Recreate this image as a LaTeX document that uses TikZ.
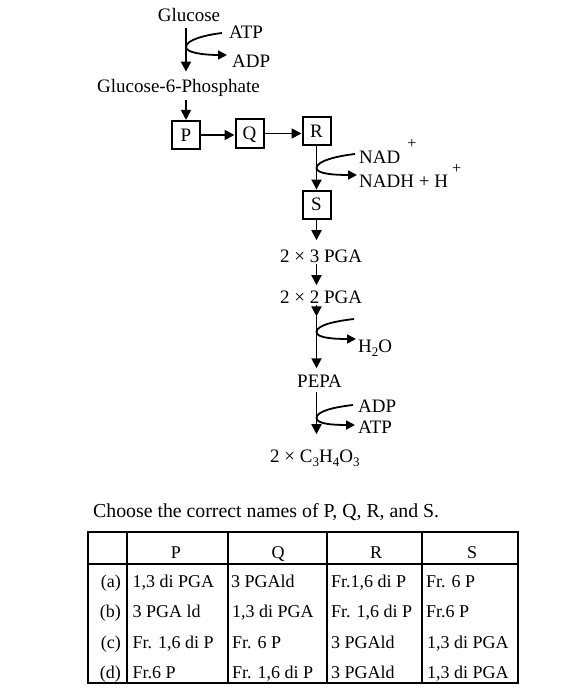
\documentclass[tikz,border=0pt]{standalone}
\usepackage{fontspec}
\setmainfont{Liberation Serif}
\usetikzlibrary{arrows.meta,decorations.markings,calc}
\newcommand{\sbs}[1]{\raisebox{-4pt}{\fontsize{13}{13}\selectfont #1}}
\newcommand{\spp}[2]{\hspace{#1}\raisebox{#2}{\fontsize{16}{16}\selectfont +}}
\begin{document}
\begin{tikzpicture}[x=1pt,y=-1pt,
  lbl/.style={inner sep=0pt, anchor=base west, font=\fontsize{19}{22}\selectfont},
  lblc/.style={inner sep=0pt, anchor=base, font=\fontsize{19}{22}\selectfont},
  box/.style={draw, line width=2pt, minimum width=28pt, minimum height=28pt,
    inner sep=0pt, text height=12.5pt, text depth=0pt, font=\fontsize{19}{22}\selectfont},
  arr/.style={line width=1.8pt, -{Triangle[length=10pt,width=10pt]}},
  sarr/.style={line width=1.8pt, -{Triangle[length=9pt,width=9pt]}},
  midtip/.style={postaction={decorate}, decoration={markings,
    mark=at position 11pt with {\arrow{Triangle[length=10pt,width=10pt]}}}},
  tline/.style={line width=2.8pt},
  cell/.style={inner sep=0pt, anchor=base west, font=\fontsize{18}{21}\selectfont},
  rlab/.style={inner sep=0pt, anchor=base east, font=\fontsize{18}{21}\selectfont},
  head/.style={inner sep=0pt, anchor=base, font=\fontsize{18}{21}\selectfont}
]
\useasboundingbox (0,0) rectangle (568,698);

% ---------- pathway nodes ----------
\node[lblc] (glu) at (189,22) {Glucose};
\node[lbl] (atp1) at (229,39) {ATP};
\node[lbl] (adp1) at (232,68) {ADP};
\node[lbl] (g6p) at (97,93) {Glucose-6-Phosphate};
\node[box] (P) at (186,135) {P};
\node[box] (Q) at (249.5,133.5) {Q};
\node[box] (R) at (316.5,131) {R};
\node[box] (S) at (316.5,204.6) {S};
\node[lbl] (nad) at (359,163) {NAD\spp{7pt}{15pt}};
\node[lbl] (nadh) at (359,187) {NADH + H\spp{4pt}{14pt}};
\node[lbl] (pga3) at (280,262) {2 × 3 PGA};
\node[lbl] (pga2) at (280,303) {2 × 2 PGA};
\node[lbl] (h2o) at (358,352) {H\sbs{2}O};
\node[lbl] (pepa) at (297,387) {PEPA};
\node[lbl] (adp2) at (358,412) {ADP};
\node[lbl] (atp2) at (358,433) {ATP};
\node[lbl] (pyr) at (270,462) {2 × C\sbs{3}H\sbs{4}O\sbs{3}};

% junction points on the main line
\coordinate (j1) at (186,47);
\coordinate (j2) at (316.5,168);
\coordinate (j3) at (316.5,332);
\coordinate (j4) at (316.5,418);
\coordinate (h2oin) at (354,319);

% ---------- main connectors ----------
\draw[arr] ($(glu.south -| P)+(0,6)$) -- ($(g6p.north -| P)+(0,-8)$);
\draw[arr] ($(g6p.south -| P)+(0,3)$) -- (P.north);
\draw[arr] (P.east) -- (P.east -| Q.west);
\draw[arr] (Q.east) -- (Q.east -| R.west);
\draw[arr] (R.south) -- (S.north);
\draw[arr] (S.south) -- ($(S.south |- pga3.north)+(0,-9)$);
\draw[arr] ($(pga3.south -| S)+(0,2)$) -- ($(pga2.north -| S)+(0,-5)$);
\draw[arr, midtip] ($(pga2.south -| S)+(0,2)$) -- ($(pepa.north -| S)+(0,-6)$);
\draw[arr] ($(pepa.south -| S)+(0,5)$) -- ($(pyr.north -| S)+(0,-15)$);

% ---------- side branches ----------
\draw[sarr] ($(atp1.base west)+(-7,-6)$) .. controls +(-17,2) and +(0,-7) .. (j1)
  .. controls +(0,6) and +(-22,0) .. ($(adp1.base west)+(-5,-13)$);
\draw[sarr] ($(nad.base west)+(-4,-9)$) .. controls +(-18,2) and +(0,-7) .. (j2)
  .. controls +(0,6) and +(-22,0) .. ($(nadh.base west)+(-2,-12)$);
\draw[sarr] (h2oin) .. controls +(-18,2) and +(0,-7) .. (j3)
  .. controls +(0,6) and +(-22,0) .. ($(h2o.base west)+(-2,-13)$);
\draw[sarr] ($(adp2.base west)+(-5,-7)$) .. controls +(-18,2) and +(0,-7) .. (j4)
  .. controls +(0,6) and +(-22,0) .. ($(atp2.base west)+(-3,-8)$);

% ---------- question ----------
\node[lbl, font=\fontsize{19.8}{23}\selectfont] (quest) at (93,517)
  {Choose the correct names of P, Q, R, and S.};

% ---------- table ----------
\draw[tline] (88,532) rectangle (518,683);
\draw[tline] (88,564) -- (518,564);
\foreach \xx in {127,228,327,422} \draw[tline] (\xx,532) -- (\xx,683);

\node[head] (hP) at (176,558) {P};
\node[head] (hQ) at (278,558) {Q};
\node[head] (hR) at (376,558) {R};
\node[head] (hS) at (472,558) {S};

\node[rlab] (la) at (121,587) {(a)};
\node[cell] (aP) at (132.5,587) {1,3 di PGA};
\node[cell] (aQ) at (231,587) {3 PGAld};
\node[cell] (aR) at (331,587) {Fr.1,6 di P};
\node[cell] (aS) at (426,587) {Fr. 6 P};

\node[rlab] (lb) at (121,617.5) {(b)};
\node[cell] (bP) at (132.5,617.5) {3 PGA ld};
\node[cell] (bQ) at (232,617.5) {1,3 di PGA};
\node[cell] (bR) at (331,617.5) {Fr. 1,6 di P};
\node[cell] (bS) at (426,617.5) {Fr.6 P};

\node[rlab] (lc) at (121,648) {(c)};
\node[cell] (cP) at (132.5,648) {Fr. 1,6 di P};
\node[cell] (cQ) at (232,648) {Fr. 6 P};
\node[cell] (cR) at (331,648) {3 PGAld};
\node[cell] (cS) at (427,648) {1,3 di PGA};

\node[rlab] (ld) at (121,678) {(d)};
\node[cell] (dP) at (132.5,678) {Fr.6 P};
\node[cell] (dQ) at (232,678) {Fr. 1,6 di P};
\node[cell] (dR) at (331,678) {3 PGAld};
\node[cell] (dS) at (427,678) {1,3 di PGA};
\end{tikzpicture}
\end{document}
